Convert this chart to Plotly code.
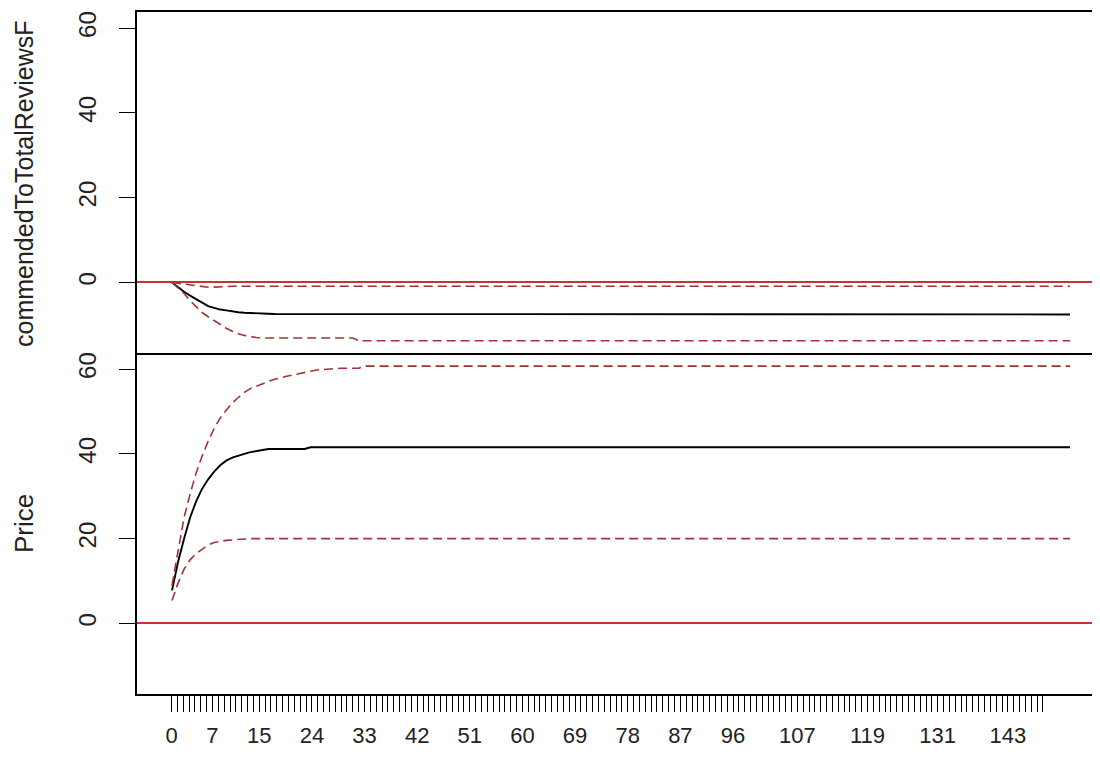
import plotly.graph_objects as go

# ---- data ----
steps = list(range(150))  # horizon 0..149

# top panel: response of RecommendedToTotalReviews...
rec_irf = [0.0, -1.2, -2.2, -3.1, -3.9, -4.8, -5.6, -6.0, -6.4, -6.6, -6.85, -7.05,
           -7.15, -7.25, -7.3, -7.35, -7.4, -7.45, -7.45, -7.5] + [-7.55] * 130
rec_upper = [0.0, -0.2, -0.45, -0.7, -0.9, -1.05, -1.15, -1.1, -1.0, -0.95] + [-0.9] * 140
rec_lower = [0.0, -1.3, -2.6, -4.3, -5.8, -7.1, -8.1, -9.0, -10.0, -10.8, -11.5, -12.1,
             -12.5, -12.8, -13.0] + [-13.1] * 16 + [-13.75] * 119

# bottom panel: response of Price
price_irf = [7.8, 14.5, 20.0, 25.0, 28.8, 31.8, 34.0, 35.8, 37.3, 38.4, 39.1, 39.6,
             40.0, 40.4, 40.7, 41.0] + [41.15] * 7 + [41.55] * 127
price_upper = [9.0, 17.0, 25.0, 30.5, 35.5, 39.5, 43.0, 46.0, 48.5, 50.3, 52.0, 53.3,
               54.5, 55.4, 56.0, 56.6, 57.1, 57.6, 58.0, 58.3, 58.6, 58.9, 59.2, 59.5,
               59.8, 59.9, 60.0] + [60.2] * 5 + [60.7] * 118
price_lower = [5.4, 9.5, 12.8, 15.0, 16.5, 17.6, 18.5, 19.1, 19.4, 19.6, 19.7,
               19.8] + [20.0] * 138

tick_values = list(range(150))
tick_labels_shown = [0, 7, 15, 24, 33, 42, 51, 60, 69, 78, 87, 96, 107, 119, 131, 143]
y_ticks = [0, 20, 40, 60]

top_label = "commendedToTotalReviewsF"
bottom_label = "Price"

# ---- styling ----
FONT = "Liberation Sans, Arial, sans-serif"
TXT = "#222222"
RED_ZERO = "#cc3030"
RED_DASH = "#a03434"
DASH = "9px,5px"
YRANGE = [-16.65, 63.8]

W, H = 1084, 744
ML, MT, MB = 129, 4, 58
PW = W - ML
PH = H - MT - MB

fig = go.Figure()

def add_panel(yref, irf, up, lo):
    xa = "x" if yref == "y" else "x2"
    fig.add_trace(go.Scatter(x=steps, y=irf, mode="lines", xaxis=xa, yaxis=yref,
                             line=dict(color="black", width=1.9), showlegend=False,
                             hoverinfo="skip"))
    for s in (up, lo):
        fig.add_trace(go.Scatter(x=steps, y=s, mode="lines", xaxis=xa, yaxis=yref,
                                 line=dict(color=RED_DASH, width=1.6, dash=DASH),
                                 showlegend=False, hoverinfo="skip"))

add_panel("y", rec_irf, rec_upper, rec_lower)
add_panel("y2", price_irf, price_upper, price_lower)

# invisible trace to activate the tick axis
fig.add_trace(go.Scatter(x=[tick_values[0]], y=[None], xaxis="x3", yaxis="y2",
                         mode="markers", showlegend=False, hoverinfo="skip"))

line_range = [-5.81, 152.65]
tick_range = [-5.90, 157.38]

yaxis_common = dict(range=YRANGE, tickmode="array", tickvals=y_ticks,
                    ticktext=[str(v) for v in y_ticks], ticks="outside", ticklen=16,
                    tickwidth=1.3, tickcolor="black", tickangle=-90,
                    tickfont=dict(family=FONT, size=24, color=TXT),
                    showline=True, linecolor="black", linewidth=1.6,
                    showgrid=False, zeroline=True, zerolinecolor=RED_ZERO,
                    zerolinewidth=1.5, ticklabelstandoff=14)

fig.update_layout(
    width=W, height=H,
    margin=dict(l=ML, r=0, t=MT, b=MB, autoexpand=False),
    paper_bgcolor="white", plot_bgcolor="white",
    showlegend=False,
    xaxis=dict(domain=[0, 1], anchor="y", range=line_range, showticklabels=False,
               ticks="", showgrid=False, zeroline=False, showline=True,
               linecolor="black", linewidth=1.6, mirror=True),
    xaxis2=dict(domain=[0, 1], anchor="y2", range=line_range, showticklabels=False,
                ticks="", showgrid=False, zeroline=False, showline=False),
    xaxis3=dict(domain=[0, 1], anchor="y2", overlaying="x2", side="bottom",
                range=tick_range, tickmode="array", tickvals=tick_values,
                ticktext=[str(v) if v in tick_labels_shown else "" for v in tick_values],
                ticks="outside", ticklen=16, tickwidth=1.2, tickcolor="black",
                tickangle=0, tickfont=dict(family=FONT, size=22, color=TXT),
                showline=True, linecolor="black", linewidth=1.6,
                showgrid=False, zeroline=False, ticklabelstandoff=5),
    yaxis=dict(domain=[0.5, 1], anchor="x", **yaxis_common),
    yaxis2=dict(domain=[0, 0.5], anchor="x2", **yaxis_common),
)

# page offset is 8px (body margin); target pixel positions are in window coords
def px_to_paper_x(px):
    return (px - 8 - ML) / PW

def px_to_paper_y(py):
    return (MT + PH - (py - 8)) / PH

fig.add_annotation(text=top_label, textangle=-90, xref="paper", yref="paper",
                   x=px_to_paper_x(24), y=px_to_paper_y(184), xanchor="center",
                   yanchor="middle", showarrow=False,
                   font=dict(family=FONT, size=25, color=TXT))
fig.add_annotation(text=bottom_label, textangle=-90, xref="paper", yref="paper",
                   x=px_to_paper_x(24), y=px_to_paper_y(524), xanchor="center",
                   yanchor="middle", showarrow=False,
                   font=dict(family=FONT, size=26, color=TXT))

fig.write_html("out.html")
